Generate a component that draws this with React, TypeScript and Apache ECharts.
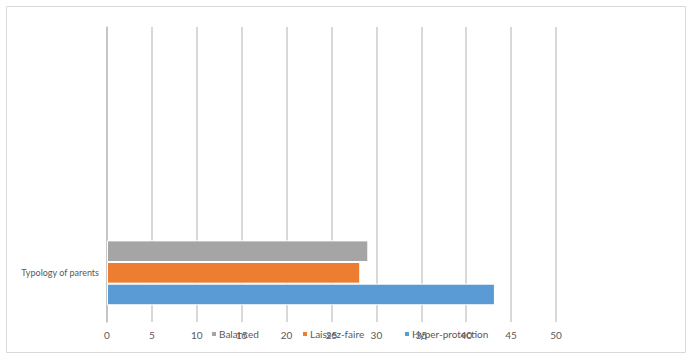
import React, { useEffect, useRef } from "react";
import * as echarts from "echarts";

const categories = ["Typology of parents", "", ""];
const seriesNames = ["Balanced", "Laissez-faire", "Hyper-protection"];
const balanced = [29.1, null, null];
const laissezFaire = [28.2, null, null];
const hyperProtection = [43.2, null, null];
const colors = ["#A5A5A5", "#ED7D31", "#5B9BD5"];
const xTicks = { min: 0, max: 50, interval: 5 };

export default function App() {
  const ref = useRef<HTMLDivElement>(null);
  useEffect(() => {
    if (!ref.current) return;
    const chart = echarts.init(ref.current, null, { renderer: "svg" });
    const font = "Lato, Liberation Sans, sans-serif";
    const values = [balanced, laissezFaire, hyperProtection];
    const legendPos = [
      { name: "Balanced", left: 210 },
      { name: "Laissez-faire", left: 301 },
      { name: "Hyper-protection", left: 403 },
    ];
    chart.setOption({
      animation: false,
      color: colors,
      graphic: [
        {
          type: "rect",
          shape: { x: 6.5, y: 6.5, width: 679, height: 346 },
          style: { fill: "none", stroke: "#D9D9D9", lineWidth: 1 },
          silent: true,
        },
      ],
      grid: { left: 107, right: 135, top: 27, bottom: 36, containLabel: false },
      legend: legendPos.map((l) => ({
        data: [l.name],
        left: l.left,
        top: 329,
        itemWidth: 6,
        itemHeight: 6,
        icon: "rect",
        itemGap: 0,
        padding: 0,
        textStyle: { color: "#595959", fontSize: 10, fontFamily: font, padding: [0, 0, 0, -3] },
      })),
      xAxis: {
        type: "value",
        min: xTicks.min,
        max: xTicks.max,
        interval: xTicks.interval,
        axisLine: { show: false },
        axisTick: { show: false },
        axisLabel: { color: "#595959", fontSize: 10, fontFamily: font, margin: 8 },
        splitLine: { lineStyle: { color: "#CBCBCB", width: 1.5 } },
      },
      yAxis: {
        type: "category",
        data: categories,
        axisLine: { lineStyle: { color: "#BFBFBF", width: 1.5 } },
        axisTick: { length: 3, lineStyle: { color: "#BFBFBF" } },
        axisLabel: { color: "#595959", fontSize: 9, fontFamily: font, margin: 8 },
      },
      series: seriesNames.map((name, i) => ({
        name,
        type: "bar",
        data: values[i],
        barGap: "0%",
        barCategoryGap: "34%",
        itemStyle: { borderColor: "#ffffff", borderWidth: 1 },
      })),
    });
    return () => chart.dispose();
  }, []);
  return (
    <div
      ref={ref}
      style={{ position: "absolute", left: 0, top: 0, width: 691, height: 358 }}
    />
  );
}
